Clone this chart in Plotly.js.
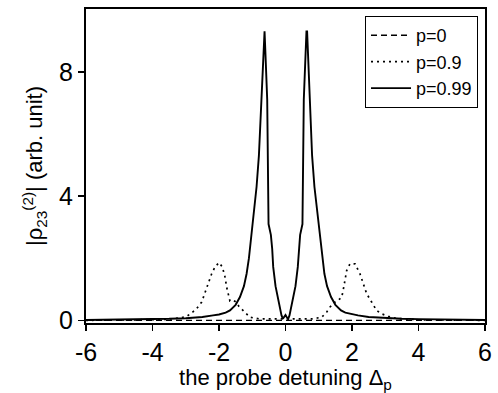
<!DOCTYPE html>
<html>
<head>
<meta charset="utf-8">
<script src="https://cdn.plot.ly/plotly-3.0.1.min.js"></script>
<style>html,body{margin:0;padding:0;background:#fff;}</style>
</head>
<body>
<div id="chart" style="width:498px;height:393px;"></div>
<script>
// p = 0 (dashed)
const xP0 = [-6, -4, -2, -1, 0, 1, 2, 4, 6];
const yP0 = [0.0, 0.0, 0.01, 0.01, 0.01, 0.01, 0.01, 0.0, 0.0];

// p = 0.9 (dotted)
const xP09 = [-6, -5, -4, -3.6, -3.17, -2.97, -2.82, -2.67, -2.52, -2.42, -2.32, -2.22, -2.12, -2.0, -1.9, -1.82, -1.77, -1.72, -1.67, -1.57, -1.5, -1.4, -1.27, -1.07, -0.8, -0.4, 0, 0.4, 0.8, 1.09, 1.24, 1.34, 1.49, 1.59, 1.69, 1.74, 1.79, 1.84, 1.94, 2.09, 2.24, 2.34, 2.44, 2.59, 2.74, 2.89, 3.09, 3.34, 4, 5, 6];
const yP09 = [0.0, 0.01, 0.02, 0.03, 0.08, 0.13, 0.24, 0.38, 0.59, 0.91, 1.24, 1.5, 1.72, 1.86, 1.72, 1.4, 1.07, 0.8, 0.62, 0.64, 0.6, 0.45, 0.3, 0.1, 0.05, 0.05, 0.06, 0.05, 0.05, 0.1, 0.27, 0.43, 0.59, 0.65, 0.74, 1.0, 1.3, 1.6, 1.82, 1.82, 1.5, 1.18, 0.86, 0.59, 0.32, 0.21, 0.13, 0.06, 0.02, 0.01, 0.0];

// p = 0.99 (solid)
const xP099 = [-6, -5, -4, -3.5, -3, -2.5, -2.18, -2, -1.8, -1.67, -1.5, -1.37, -1.25, -1.17, -1.1, -1.02, -0.95, -0.87, -0.8, -0.77, -0.72, -0.68, -0.65, -0.63, -0.6, -0.57, -0.55, -0.51, -0.47, -0.44, -0.4, -0.37, -0.3, -0.22, -0.15, -0.12, -0.08, -0.04, 0, 0.04, 0.08, 0.12, 0.15, 0.22, 0.3, 0.37, 0.4, 0.44, 0.47, 0.51, 0.55, 0.57, 0.6, 0.63, 0.65, 0.68, 0.72, 0.77, 0.8, 0.87, 0.95, 1.02, 1.1, 1.17, 1.25, 1.37, 1.5, 1.67, 1.8, 2, 2.18, 2.5, 3, 3.5, 4, 5, 6];
const yP099 = [0.01, 0.02, 0.04, 0.05, 0.07, 0.11, 0.16, 0.19, 0.25, 0.32, 0.5, 0.75, 1.1, 1.5, 2.0, 2.8, 3.5, 4.3, 5.3, 6.0, 7.3, 8.5, 9.3, 9.3, 8.5, 7.8, 7.1, 3.1, 2.9, 2.75, 2.3, 1.72, 1.1, 0.65, 0.3, 0.16, 0.05, 0.1, 0.17, 0.1, 0.05, 0.16, 0.3, 0.65, 1.1, 1.72, 2.3, 2.75, 2.9, 3.1, 7.1, 7.8, 8.5, 9.3, 9.3, 8.5, 7.3, 6.0, 5.3, 4.3, 3.5, 2.8, 2.0, 1.5, 1.1, 0.75, 0.5, 0.32, 0.25, 0.19, 0.16, 0.11, 0.07, 0.05, 0.04, 0.02, 0.01];

const names = ['p=0', 'p=0.9', 'p=0.99'];
const xTicks = [-6, -4, -2, 0, 2, 4, 6];
const yTicks = [0, 4, 8];

const traces = [
  {x: xP0, y: yP0, name: names[0], mode: 'lines', line: {color: '#000', width: 1.4, dash: '6px,4px'}},
  {x: xP09, y: yP09, name: names[1], mode: 'lines', line: {color: '#000', width: 1.7, dash: '2px,4px'}},
  {x: xP099, y: yP099, name: names[2], mode: 'lines', line: {color: '#000', width: 1.9}}
];

const font = {family: 'Arial, "Liberation Sans", sans-serif', color: '#000'};

const layout = {
  width: 498, height: 393,
  margin: {l: 86, r: 13, t: 9, b: 70},
  paper_bgcolor: '#fff', plot_bgcolor: '#fff',
  showlegend: true,
  legend: {
    x: 0.982, y: 0.978, xanchor: 'right', yanchor: 'top',
    bordercolor: '#000', borderwidth: 1.2, bgcolor: '#fff',
    font: Object.assign({size: 18}, font),
    tracegroupgap: 0, itemwidth: 40
  },
  xaxis: {
    range: [-6, 6], tickvals: xTicks, ticktext: xTicks.map(String),
    ticks: 'outside', ticklen: 6, tickwidth: 1.5, tickcolor: '#000',
    showline: true, linecolor: '#000', linewidth: 2, mirror: true,
    showgrid: false, zeroline: false,
    tickfont: Object.assign({size: 25}, font),
    title: {text: 'the probe detuning Δ<sub>p</sub>', font: Object.assign({size: 22}, font), standoff: 4}
  },
  yaxis: {
    range: [-0.085, 10.02], tickvals: yTicks, ticktext: yTicks.map(String),
    ticks: 'outside', ticklen: 6, tickwidth: 1.5, tickcolor: '#000',
    showline: true, linecolor: '#000', linewidth: 2, mirror: true,
    showgrid: false, zeroline: false,
    tickfont: Object.assign({size: 25}, font),
    title: {text: '|ρ<sub>23</sub><sup>(2)</sup>| (arb. unit)', font: Object.assign({size: 22}, font), standoff: 10}
  }
};

Plotly.newPlot('chart', traces, layout, {displayModeBar: false, staticPlot: true});
</script>
</body>
</html>
